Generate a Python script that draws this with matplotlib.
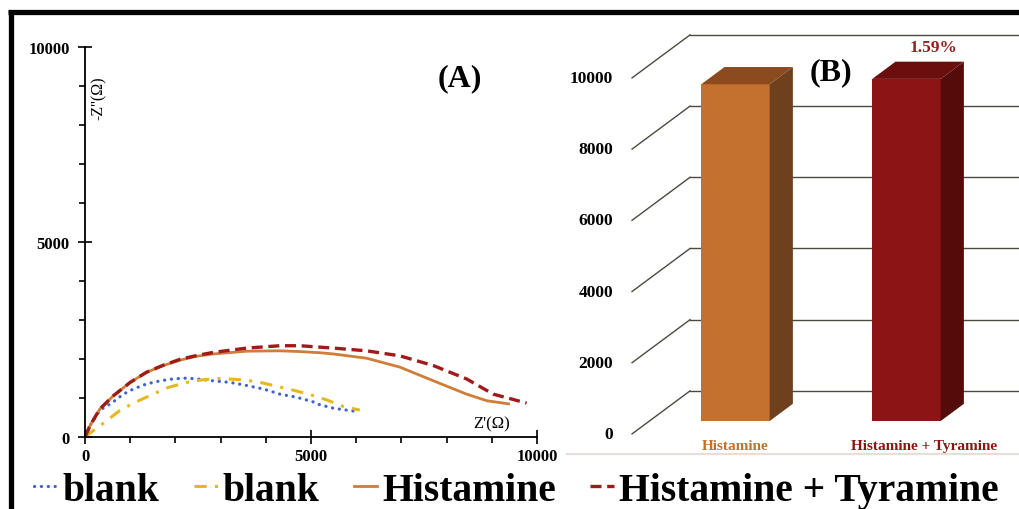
import matplotlib

matplotlib.use("Agg")
import matplotlib.pyplot as plt
from matplotlib.lines import Line2D
from matplotlib.patches import Polygon
from matplotlib.ticker import MultipleLocator

plt.rcParams["font.family"] = ["Liberation Serif", "DejaVu Serif"]
plt.rcParams["font.weight"] = "bold"

W, H = 1019, 510

# (A) Nyquist plots: Z' and -Z'' in ohm
blank_dot_x = [0, 110, 330, 590, 850, 1070, 1360, 1660, 1950, 2250, 2470, 2840,
               3210, 3580, 3950, 4310, 4680, 5050, 5120, 5490, 5720, 5970]
blank_dot_y = [0, 290, 690, 870, 1100, 1230, 1360, 1440, 1490, 1510, 1490, 1440,
               1400, 1320, 1230, 1100, 1020, 900, 850, 740, 700, 660]
blank_dashdot_x = [0, 180, 440, 770, 1110, 1510, 1840, 2250, 2620, 2990, 3430,
                   3800, 4170, 4610, 4970, 5350, 5720, 6080]
blank_dashdot_y = [0, 160, 380, 680, 890, 1100, 1270, 1400, 1470, 1500, 1470,
                   1420, 1320, 1200, 1090, 950, 780, 690]
hist_x = [0, 110, 330, 630, 1000, 1360, 1730, 2100, 2470, 2840, 3580, 4310, 4760,
          5200, 5490, 6230, 6970, 7710, 8440, 8890, 9370]
hist_y = [0, 290, 720, 1060, 1400, 1660, 1830, 1970, 2070, 2130, 2200, 2210, 2190,
          2160, 2130, 2020, 1790, 1440, 1100, 930, 850]
hist_tyr_x = [0, 110, 330, 630, 1000, 1360, 1730, 2100, 2470, 2840, 3580, 4310,
              4760, 5490, 6230, 6970, 7710, 8440, 9030, 9770]
hist_tyr_y = [0, 290, 720, 1060, 1400, 1660, 1840, 1990, 2090, 2170, 2280, 2340,
              2340, 2280, 2210, 2080, 1830, 1490, 1100, 870]
a_ticks = [0, 5000, 10000]

# (B) charge transfer resistance per sample
bar_labels = ["Histamine", "Histamine + Tyramine"]
bar_values = [9460, 9610]
b_ticks = [0, 2000, 4000, 6000, 8000, 10000]

bar_front = ["#C4702F", "#8C1414"]
bar_side = ["#6F401D", "#560B0B"]
bar_top = ["#8C4B1F", "#6A0E0E"]


def px_rect(left, top, right, bottom):
    return [left / W, 1 - bottom / H, (right - left) / W, (bottom - top) / H]


fig = plt.figure(figsize=(W / 100, H / 100), dpi=100)

# ---- panel A
ax = fig.add_axes(px_rect(85, 48, 537, 438))
l1, = ax.plot(blank_dot_x, blank_dot_y, color="#3F63CC", lw=2.3,
              linestyle=(0, (0.05, 2.1)), dash_capstyle="round")
l2, = ax.plot(blank_dashdot_x, blank_dashdot_y, color="#E5B820", lw=2.2,
              linestyle=(0, (4, 2.7, 1, 2.7)))
l3, = ax.plot(hist_x, hist_y, color="#D07D3A", lw=2.0)
l4, = ax.plot(hist_tyr_x, hist_tyr_y, color="#A01A1A", lw=2.4,
              linestyle=(0, (3.3, 1.7)))

ax.set_xlim(0, 10000)
ax.set_ylim(0, 10000)
ax.set_xticks(a_ticks)
ax.set_yticks(a_ticks)
ax.xaxis.set_minor_locator(MultipleLocator(1000))
ax.yaxis.set_minor_locator(MultipleLocator(1000))
ax.tick_params(which="major", direction="inout", length=10, width=1.2,
               labelsize=12)
ax.tick_params(which="minor", direction="out", length=4, width=1.2)
ax.tick_params(axis="y", which="major", pad=6)
ax.tick_params(axis="x", which="major", pad=3)
for side in ("top", "right"):
    ax.spines[side].set_visible(False)
for side in ("left", "bottom"):
    ax.spines[side].set_linewidth(1.3)
for lbl in ax.get_xticklabels() + ax.get_yticklabels():
    lbl.set_fontweight("bold")

fig.text(99 / W, 1 - 98 / H, "-Z''(Ω)", rotation=90, ha="center", va="center",
         fontsize=11.5, fontweight="normal")
fig.text(492 / W, 1 - 424 / H, "Z'(Ω)", ha="center", va="center",
         fontsize=12, fontweight="normal")
fig.text(460 / W, 1 - 79 / H, "(A)", ha="center", va="center", fontsize=23,
         fontweight="bold")

# ---- panel B, oblique 3D projection drawn on a flat axes
cat_px, cat0_px = 171, 735.5          # pixels per category, first bar centre
val_px, val0_px = 0.0356, 422         # pixels per unit, bar front base line
ax_b = fig.add_axes(px_rect(560, 14, 1019, 470))
ax_b.set_xlim((560 - cat0_px) / cat_px, (1019 - cat0_px) / cat_px)
ax_b.set_ylim((val0_px - 470) / val_px, (val0_px - 14) / val_px)
ax_b.axis("off")

depth_x, depth_y = 0.339, 1208        # full floor depth offset
front_d, bar_d = -0.3, 0.4            # floor front edge, bar thickness
wall_x = -0.266
grid_c = "#4A4A40"
x_end = ax_b.get_xlim()[1]
for v in b_ticks:
    fx, fy = wall_x - depth_x, v + front_d * depth_y
    by = v + (1 + front_d) * depth_y
    ax_b.plot([fx, wall_x], [fy, by], color=grid_c, lw=1.0, zorder=1)
    ax_b.plot([wall_x, x_end], [by, by], color=grid_c, lw=1.0, zorder=1)
    ax_b.text(fx - 19 / cat_px, fy, f"{v}", ha="right", va="center",
              fontsize=12.5, fontweight="bold")

bw = 0.4
ddx, ddy = bar_d * depth_x, bar_d * depth_y
for i, v in enumerate(bar_values):
    x0, x1 = i - bw / 2, i + bw / 2
    ax_b.add_patch(Polygon([(x0, 0), (x1, 0), (x1, v), (x0, v)],
                           facecolor=bar_front[i], edgecolor="none", zorder=3))
    ax_b.add_patch(Polygon([(x1, 0), (x1 + ddx, ddy), (x1 + ddx, v + ddy), (x1, v)],
                           facecolor=bar_side[i], edgecolor="none", zorder=3))
    ax_b.add_patch(Polygon([(x0, v), (x1, v), (x1 + ddx, v + ddy), (x0 + ddx, v + ddy)],
                           facecolor=bar_top[i], edgecolor="none", zorder=3))

label_x = [0.0, 1.1]
for i, name in enumerate(bar_labels):
    ax_b.text(label_x[i], (val0_px - 447) / val_px, name, color=bar_front[i],
              ha="center", va="center", fontsize=11, fontweight="bold")

change = (bar_values[1] - bar_values[0]) / bar_values[0] * 100
ax_b.text(1.16, bar_values[1] + ddy + 400, f"{change:.2f}%", color="#9A1C1C",
          ha="center", va="center", fontsize=12.5, fontweight="bold")
fig.text(831 / W, 1 - 73 / H, "(B)", ha="center", va="center", fontsize=23,
         fontweight="bold")

# chart border under the category labels
fig.add_artist(Line2D([567 / W, 1], [1 - 455 / H] * 2, color="#E4E0D6", lw=1.5))

# outer frame (top and left edges)
fig.add_artist(Line2D([8 / W, 1], [1 - 13 / H] * 2, color="black", lw=3.8,
                      solid_capstyle="butt"))
fig.add_artist(Line2D([10.5 / W] * 2, [1 - 11 / H, 0], color="black", lw=3.8,
                      solid_capstyle="butt"))

fig.legend([l1, l2, l3, l4], ["blank", "blank", "Histamine", "Histamine + Tyramine"],
           loc="lower left", bbox_to_anchor=(34 / W, 0), ncol=4, frameon=False,
           handlelength=0.6, handletextpad=0.12, columnspacing=0.87,
           borderpad=0, borderaxespad=0, prop={"size": 28.5, "weight": "bold"})

fig.savefig("out.png", dpi=100)
